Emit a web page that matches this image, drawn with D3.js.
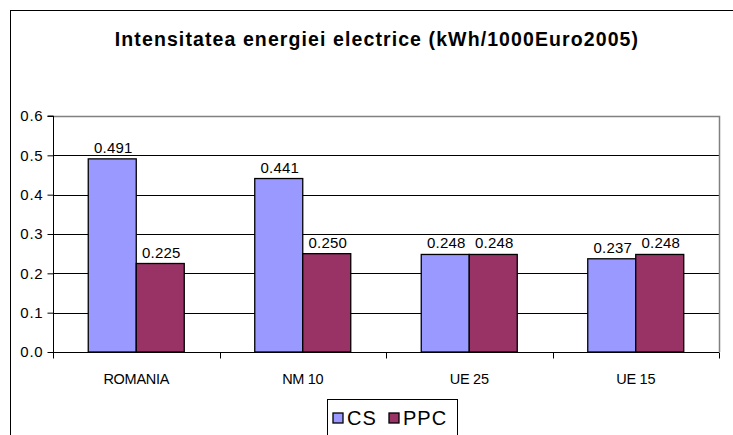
<!DOCTYPE html>
<html>
<head>
<meta charset="utf-8">
<script src="https://cdnjs.cloudflare.com/ajax/libs/d3/7.8.5/d3.min.js"></script>
<style>
body { margin: 0; background: #fff; }
svg { font-family: "Liberation Sans", Arial, sans-serif; }
</style>
</head>
<body>
<script>

var categories = ["ROMANIA", "NM 10", "UE 25", "UE 15"];
var seriesNames = ["CS", "PPC"];
var csValues = [0.491, 0.441, 0.248, 0.237];
var ppcValues = [0.225, 0.250, 0.248, 0.248];
var yTicks = [0, 0.1, 0.2, 0.3, 0.4, 0.5, 0.6];
var colors = ["#9999FF", "#993366"];

var W = 733, H = 435;
var plot = {left: 53, right: 719, top: 116, bottom: 352};

var svg = d3.select("body").append("svg")
  .attr("width", W).attr("height", H);

// chart frame
svg.append("rect")
  .attr("x", 10.5).attr("y", 10.5)
  .attr("width", 740).attr("height", 440)
  .attr("fill", "#fff").attr("stroke", "#000");

svg.append("text")
  .attr("x", 377).attr("y", 46)
  .attr("text-anchor", "middle")
  .style("font-size", "19.5px").style("font-weight", "bold")
  .style("letter-spacing", "1.1px")
  .text("Intensitatea energiei electrice (kWh/1000Euro2005)");

var x = d3.scaleBand().domain(categories)
  .range([plot.left, plot.right]).paddingInner(0).paddingOuter(0);
var y = d3.scaleLinear().domain([0, 0.6]).range([plot.bottom, plot.top]);

// gridlines
svg.append("g").selectAll("line").data(yTicks.slice(1, -1)).enter().append("line")
  .attr("x1", plot.left).attr("x2", plot.right)
  .attr("y1", function(d) { return Math.round(y(d)) + 0.5; })
  .attr("y2", function(d) { return Math.round(y(d)) + 0.5; })
  .attr("stroke", "#000");

// plot border (grey)
svg.append("path")
  .attr("d", "M" + plot.left + "," + (plot.top + 0.5) + "H" + (plot.right + 0.5) + "V" + plot.bottom)
  .attr("fill", "none").attr("stroke", "#808080").attr("stroke-width", 1.5);

var data = categories.map(function(c, i) { return {cat: c, vals: [csValues[i], ppcValues[i]]}; });
var barW = 48;

var g = svg.append("g").selectAll("g").data(data).enter().append("g");
g.each(function(d) {
  var cx = x(d.cat) + x.bandwidth() / 2;
  var sel = d3.select(this);
  d.vals.forEach(function(v, j) {
    var bx = cx - barW + j * barW;
    sel.append("rect")
      .attr("x", bx).attr("y", y(v))
      .attr("width", barW).attr("height", y(0) - y(v))
      .attr("fill", colors[j]).attr("stroke", "#000").attr("stroke-width", 1.3);
    sel.append("text")
      .attr("x", bx + barW / 2 + 1).attr("y", y(v) - 6)
      .attr("text-anchor", "middle")
      .style("font-size", "15px").style("letter-spacing", "0.2px")
      .text(v.toFixed(3));
  });
});

// y axis
var yAxis = d3.axisLeft(y).tickValues(yTicks).tickFormat(d3.format(".1f")).tickSize(6).tickPadding(4);
var ya = svg.append("g").attr("transform", "translate(" + (plot.left + 0.5) + ",0)").call(yAxis);
ya.selectAll("text").style("font-size", "15px").style("letter-spacing", "0.8px").attr("fill", "#000");
ya.selectAll("line,path").attr("stroke", "#000");
ya.select(".domain").attr("d", "M-6," + y(0.6) + "H0V" + y(0));

// x axis
var xa = svg.append("g").attr("transform", "translate(0," + (plot.bottom + 0.5) + ")");
xa.append("line").attr("x1", plot.left).attr("x2", plot.right).attr("stroke", "#000");
var ticks = categories.map(function(c) { return x(c); }).concat([plot.right]);
xa.selectAll(".tk").data(ticks).enter().append("line")
  .attr("x1", function(d) { return Math.round(d) + 0.5; })
  .attr("x2", function(d) { return Math.round(d) + 0.5; })
  .attr("y1", 0).attr("y2", 6).attr("stroke", "#000");
xa.selectAll(".lb").data(categories).enter().append("text")
  .attr("x", function(d) { return x(d) + x.bandwidth() / 2; })
  .attr("y", 31).attr("text-anchor", "middle")
  .style("font-size", "14.5px").style("letter-spacing", "-0.3px")
  .text(function(d) { return d; });

// legend
var lg = svg.append("g");
lg.append("rect").attr("x", 327.5).attr("y", 399.5).attr("width", 130).attr("height", 50)
  .attr("fill", "#fff").attr("stroke", "#000");
var lx = [333, 389];
seriesNames.forEach(function(n, i) {
  lg.append("rect").attr("x", lx[i]).attr("y", 413).attr("width", 10).attr("height", 10)
    .attr("fill", colors[i]).attr("stroke", "#000").attr("stroke-width", 1.3);
  lg.append("text").attr("x", lx[i] + 14).attr("y", 425)
    .style("font-size", "20px").style("letter-spacing", "1px").text(n);
});

</script>
</body>
</html>
